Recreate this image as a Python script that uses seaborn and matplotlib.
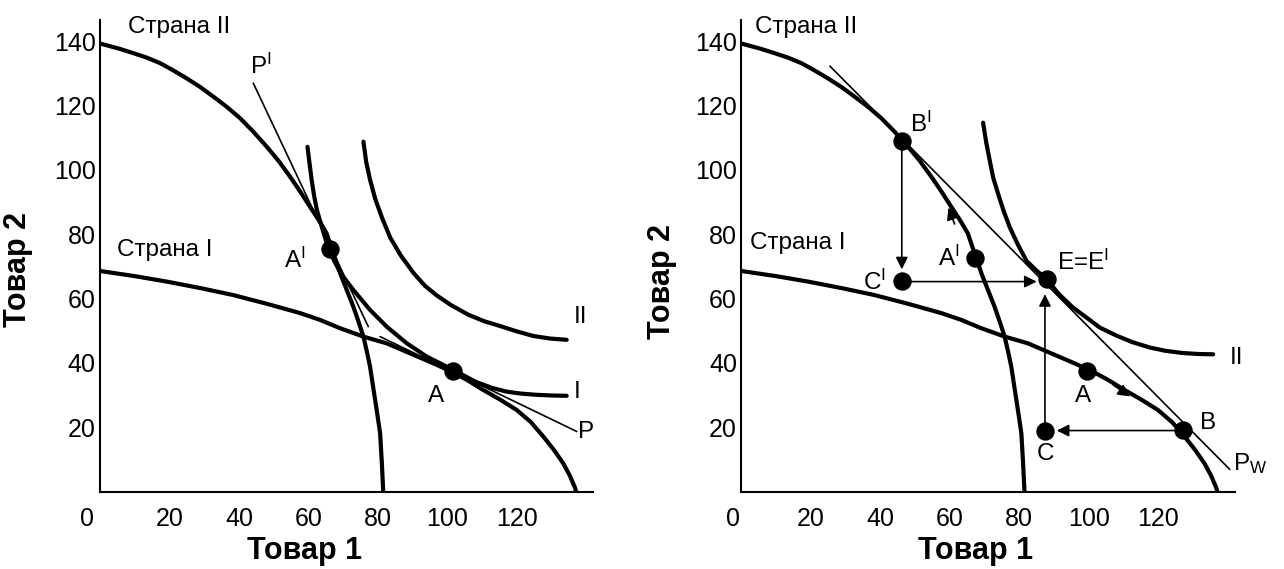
import matplotlib
matplotlib.use('Agg')
import matplotlib.pyplot as plt
import seaborn as sns

# --- данные ---
# КПВ страны II
ppf2_x = [0, 1.4, 5.5, 9.6, 13.5, 17.3, 21, 24.9, 28.8, 32.6, 36.5, 40.3, 44.2, 48, 51.4,
          54.7, 57.6, 60.4, 62.9, 65.2, 66.7, 69.1, 71, 72.9, 74.4, 75.8, 76.8, 77.7, 78.6,
          79.6, 80.6, 81.1, 81.5]
ppf2_y = [139.3, 138.9, 137.7, 136.3, 134.9, 133.2, 131, 128.5, 125.8, 122.8, 119.6, 116.1,
          111.8, 107.2, 102.8, 97.9, 93.3, 88.6, 84.5, 80.3, 75.5, 67.9, 62.7, 57.5, 52.8,
          48.2, 43.5, 38.9, 32.5, 25.5, 18.2, 9, 0]
# КПВ страны I
ppf1_x = [0, 10, 19.2, 28.8, 38.4, 48, 57.6, 63.3, 69.1, 75.8, 82.5, 89.2, 95.9, 101.2, 105.8,
          110.3, 115, 119.9, 124, 127.6, 130.6, 133.3, 135.2, 136.7, 137]
ppf1_y = [68.6, 67, 65.3, 63.3, 61.1, 58.4, 55.5, 53.4, 50.8, 48.2, 46.1, 43, 39.9, 37.3, 34.6,
          31.6, 28.7, 25.4, 21.6, 17.1, 13, 8.8, 5, 1.2, 0]

# кривые безразличия, левый график
ic1_x = [59.7, 60.3, 60.9, 61.6, 62.4, 63.5, 64.6, 65.7, 67.5, 69.5, 72.9, 77.7, 82.5, 88.3,
         94, 101.7, 108.4, 113, 117, 121, 125.7, 130, 134.3]
ic1_y = [107.2, 102, 96.9, 92, 87.6, 83.5, 79.5, 75.7, 71.5, 67.5, 62.7, 56.5, 51.3, 46.1,
         42, 37.8, 34, 32.2, 31.1, 30.5, 30.1, 29.9, 29.8]
ic2_left_x = [75.8, 76.6, 77.7, 79.2, 81.2, 83.5, 86.5, 90.2, 93.5, 96.9, 101, 106, 110.5,
              115.1, 120, 124.7, 129.5, 134.3]
ic2_left_y = [108.8, 102.5, 97, 91, 85, 79, 73.5, 68, 64, 61, 58, 55, 53, 51.5, 49.8, 48.4,
              47.6, 47.2]
# кривая безразличия II, правый график
ic2_right_x = [69.6, 70.5, 71.5, 72.5, 74, 75.6, 77.3, 79.7, 82.1, 85, 87.9, 91.5, 95.5, 99.5,
               103.2, 108, 112.5, 117.6, 122, 127, 131.5, 135.8]
ic2_right_y = [114.7, 108.5, 103, 97.6, 92.3, 87, 82.1, 76.6, 71.7, 68.7, 66, 61.3, 57.2, 54,
               51, 48.5, 46.5, 44.8, 43.8, 43.1, 42.8, 42.7]

# линии цен
p_prime_x, p_prime_y = [44.1, 77.2], [127, 51.3]
p_x, p_y = [80.6, 137.2], [48.2, 18.7]
pw_x, pw_y = [25.5, 140.6], [132.3, 6.9]

# точки
left_pts_x, left_pts_y = [66.2, 101.5], [75.5, 37.5]
right_pts_x = [46.2, 67.3, 46.2, 87.9, 99.4, 127.2, 87.4]
right_pts_y = [109.0, 72.7, 65.5, 66.0, 37.5, 19.1, 18.9]

# стрелки (начало, конец)
trade_arrows = [((46.2, 109.0), (46.2, 69.1)),
                ((46.2, 65.3), (85.0, 65.3)),
                ((127.2, 19.0), (90.8, 19.0)),
                ((87.4, 18.9), (87.4, 61.4))]
curve_arrows = [((61.4, 83.2), (59.6, 88.3)),
                ((107.0, 33.2), (111.9, 29.6))]

left_labels = [('Страна II', 8.1, 144.4), ('Страна I', 5.0, 75.1),
               ('P$\\mathregular{^I}$', 43.2, 132.3), ('A$\\mathregular{^I}$', 53.0, 72.0),
               ('A', 94.3, 29.7), ('II', 136.2, 54.3), ('I', 136.2, 31.1), ('P', 137.6, 18.4)]
right_labels = [('Страна II', 4.0, 144.4), ('Страна I', 2.6, 77.4),
                ('B$\\mathregular{^I}$', 48.5, 114.2), ('A$\\mathregular{^I}$', 56.7, 72.5),
                ('C$\\mathregular{^I}$', 35.1, 65.2), ('E=E$\\mathregular{^I}$', 90.8, 71.2),
                ('A', 96.0, 29.7), ('B', 132.0, 21.5), ('C', 85.0, 11.6),
                ('II', 140.6, 41.5), ('P$\\mathregular{_W}$', 141.4, 8.6)]

x_ticks = [20, 40, 60, 80, 100, 120]
y_ticks = [20, 40, 60, 80, 100, 120, 140]

sns.set_style('white')
plt.rcParams['font.family'] = ['Liberation Sans', 'DejaVu Sans']
plt.rcParams['mathtext.fontset'] = 'custom'
plt.rcParams['mathtext.rm'] = 'Liberation Sans'
for k in ['text.color', 'axes.labelcolor', 'xtick.color', 'ytick.color']:
    plt.rcParams[k] = 'black'

fig = plt.figure(figsize=(12.84, 5.69), dpi=100)
ax1 = fig.add_axes([0.0779, 0.1359, 0.3843, 0.8283])
ax2 = fig.add_axes([0.5773, 0.1359, 0.3843, 0.8283])

THICK = 3.0
THIN = 1.2
LABEL_FS = 17.5


def curve(ax, xs, ys, lw):
    sns.lineplot(x=xs, y=ys, ax=ax, sort=False, estimator=None, color='black',
                 linewidth=lw, legend=False)


def style(ax, zero_dx, lab_x, ylab_pos):
    ax.set_xlim(0, 142)
    ax.set_ylim(0, 146.5)
    ax.set_xticks(x_ticks)
    ax.set_yticks(y_ticks)
    ax.tick_params(axis='x', direction='in', length=9, width=1.3, labelsize=18, pad=11)
    ax.tick_params(axis='y', direction='in', length=9, width=1.3, labelsize=18, pad=3)
    for s in ['top', 'right']:
        ax.spines[s].set_visible(False)
    for s in ['left', 'bottom']:
        ax.spines[s].set_linewidth(1.5)
        ax.spines[s].set_color('black')
    ax.annotate('0', xy=(0, 0), xytext=(zero_dx, -11), textcoords='offset points',
                ha='center', va='top', fontsize=18)
    ax.set_xlabel('Товар 1', fontsize=22, fontweight='bold')
    ax.set_ylabel('Товар 2', fontsize=22, fontweight='bold')
    ax.xaxis.set_label_coords(lab_x, -0.093)
    ax.yaxis.set_label_coords(*ylab_pos)


def arrow(ax, start, end):
    ax.annotate('', xy=end, xytext=start,
                arrowprops=dict(arrowstyle='-|>', color='black', lw=1.2, mutation_scale=18,
                                shrinkA=0, shrinkB=0))


# левый график
curve(ax1, ppf2_x, ppf2_y, THICK)
curve(ax1, ppf1_x, ppf1_y, THICK)
curve(ax1, ic1_x, ic1_y, THICK)
curve(ax1, ic2_left_x, ic2_left_y, THICK)
curve(ax1, p_prime_x, p_prime_y, THIN)
curve(ax1, p_x, p_y, THIN)
sns.scatterplot(x=left_pts_x, y=left_pts_y, ax=ax1, s=150, color='black', edgecolor='black', zorder=5)
for t, x, y in left_labels:
    ax1.text(x, y, t, fontsize=LABEL_FS, ha='left', va='center')
style(ax1, -9.5, 0.415, (-0.135, 0.471))

# правый график
curve(ax2, ppf2_x, ppf2_y, THICK)
curve(ax2, ppf1_x, ppf1_y, THICK)
curve(ax2, ic2_right_x, ic2_right_y, THICK)
curve(ax2, pw_x, pw_y, THIN)
for a, b in trade_arrows + curve_arrows:
    arrow(ax2, a, b)
sns.scatterplot(x=right_pts_x, y=right_pts_y, ax=ax2, s=150, color='black', edgecolor='black', zorder=5)
for t, x, y in right_labels:
    ax2.text(x, y, t, fontsize=LABEL_FS, ha='left', va='center')
style(ax2, -6, 0.475, (-0.13, 0.446))

fig.savefig('out.png', dpi=100)
